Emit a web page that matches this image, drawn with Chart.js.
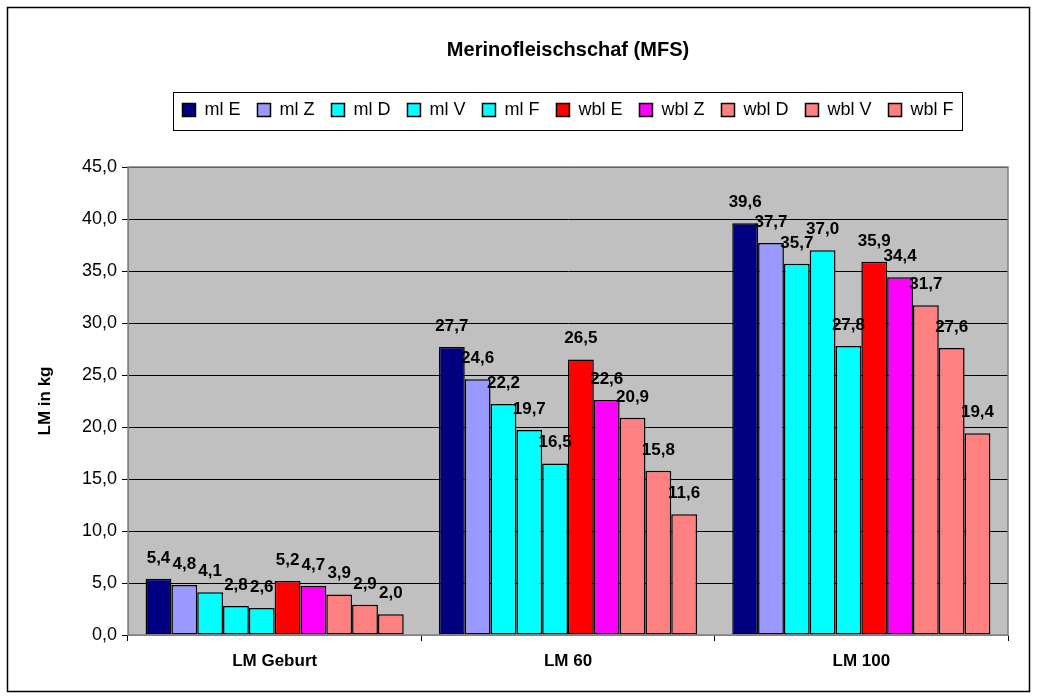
<!DOCTYPE html>
<html lang="de">
<head>
    <meta charset="UTF-8">
    <title>Merinofleischschaf (MFS)</title>
    <script src="https://cdn.jsdelivr.net/npm/chart.js"></script>
    <style>
        body { margin: 0; background: #fff; }
        canvas { display: block; }
    </style>
</head>
<body>
    <canvas id="myChart" width="1037" height="700"></canvas>

    <script>
        // Kategorien und Werte
        const categories = ['LM Geburt', 'LM 60', 'LM 100'];
        const seriesNames = ['ml E', 'ml Z', 'ml D', 'ml V', 'ml F', 'wbl E', 'wbl Z', 'wbl D', 'wbl V', 'wbl F'];
        const mlE = [5.4, 27.7, 39.6];
        const mlZ = [4.8, 24.6, 37.7];
        const mlD = [4.1, 22.2, 35.7];
        const mlV = [2.8, 19.7, 37.0];
        const mlF = [2.6, 16.5, 27.8];
        const wblE = [5.2, 26.5, 35.9];
        const wblZ = [4.7, 22.6, 34.4];
        const wblD = [3.9, 20.9, 31.7];
        const wblV = [2.9, 15.8, 27.6];
        const wblF = [2.0, 11.6, 19.4];
        const yTicks = [0, 5, 10, 15, 20, 25, 30, 35, 40, 45];

        const seriesValues = [mlE, mlZ, mlD, mlV, mlF, wblE, wblZ, wblD, wblV, wblF];
        const colors = ['#000080', '#9999FF', '#00FFFF', '#00FFFF', '#00FFFF',
                        '#FF0000', '#FF00FF', '#FF8080', '#FF8080', '#FF8080'];

        const FONT = '"Liberation Sans", Arial, sans-serif';
        const fmt = v => v.toFixed(1).replace('.', ',');

        // Legende: feste Höhe, damit die Zeichenfläche bei y=167 beginnt
        const legendHeight = {
            id: 'legendHeight',
            beforeInit(chart) {
                const lg = chart.legend;
                const fit = lg.fit;
                lg.fit = function () {
                    fit.call(this);
                    this.height = 83;
                };
            }
        };

        // grauer Hintergrund der Zeichenfläche + Rahmen
        const plotArea = {
            id: 'plotArea',
            beforeDraw(chart) {
                const { ctx, chartArea: a } = chart;
                ctx.save();
                ctx.fillStyle = '#C0C0C0';
                ctx.fillRect(a.left, a.top, a.right - a.left, a.bottom - a.top);
                ctx.restore();
            },
            afterDraw(chart) {
                const { ctx, chartArea: a } = chart;
                ctx.save();
                ctx.strokeStyle = '#808080';
                ctx.lineWidth = 1.5;
                ctx.strokeRect(a.left, a.top, a.right - a.left, a.bottom - a.top);
                // äußerer Rahmen
                ctx.strokeStyle = '#000';
                ctx.lineWidth = 1.5;
                ctx.strokeRect(7.5, 7.5, 1022, 684);
                // Rahmen um die Legende
                const boxes = chart.legend.legendHitBoxes;
                if (boxes && boxes.length) {
                    const l = Math.min(...boxes.map(b => b.left)) - 9;
                    const r = Math.max(...boxes.map(b => b.left + b.width)) + 9;
                    const t = Math.min(...boxes.map(b => b.top)) - 9;
                    const bt = Math.max(...boxes.map(b => b.top + b.height)) + 11;
                    ctx.strokeStyle = '#000';
                    ctx.lineWidth = 1;
                    ctx.strokeRect(Math.round(l) + 0.5, Math.round(t) + 0.5, Math.round(r - l), Math.round(bt - t));
                }
                ctx.restore();
            }
        };

        // Datenbeschriftungen über den Balken
        const barLabels = {
            id: 'barLabels',
            afterDatasetsDraw(chart) {
                const ctx = chart.ctx;
                ctx.save();
                ctx.font = 'bold 17px ' + FONT;
                ctx.fillStyle = '#000';
                ctx.textAlign = 'center';
                ctx.textBaseline = 'alphabetic';
                chart.data.datasets.forEach((ds, i) => {
                    chart.getDatasetMeta(i).data.forEach((bar, j) => {
                        ctx.fillText(fmt(ds.data[j]), bar.x, bar.y - 16);
                    });
                });
                ctx.restore();
            }
        };

        const ctx = document.getElementById('myChart').getContext('2d');
        new Chart(ctx, {
            type: 'bar',
            data: {
                labels: categories,
                datasets: seriesNames.map((name, i) => ({
                    label: name,
                    data: seriesValues[i],
                    backgroundColor: colors[i],
                    borderColor: '#000',
                    borderWidth: 1.5,
                    borderSkipped: false,
                    categoryPercentage: 0.88,
                    barPercentage: 1.0
                }))
            },
            options: {
                responsive: false,
                animation: false,
                layout: { padding: { left: 20, right: 29, top: 10, bottom: 0 } },
                plugins: {
                    title: {
                        display: true,
                        fullSize: false,
                        text: 'Merinofleischschaf (MFS)',
                        color: '#000',
                        font: { family: FONT, size: 20, weight: 'bold' },
                        padding: { top: 28, bottom: 22 }
                    },
                    legend: {
                        position: 'top',
                        fullSize: false,
                        labels: {
                            color: '#000',
                            boxWidth: 13,
                            boxHeight: 13,
                            padding: 17,
                            font: { family: FONT, size: 18 }
                        }
                    },
                    tooltip: { enabled: false }
                },
                scales: {
                    x: {
                        afterFit(scale) { scale.height = 65; },
                        grid: {
                            offset: true,
                            drawOnChartArea: false,
                            color: '#000',
                            tickLength: 6
                        },
                        border: { color: '#808080' },
                        ticks: {
                            color: '#000',
                            padding: 10,
                            font: { family: FONT, size: 17, weight: 'bold' }
                        }
                    },
                    y: {
                        min: 0,
                        max: 45,
                        afterFit(scale) { scale.width = 108; },
                        afterBuildTicks(scale) {
                            scale.ticks = yTicks.map(v => ({ value: v }));
                        },
                        grid: { color: '#000', tickLength: 6 },
                        border: { color: '#808080' },
                        ticks: {
                            color: '#000',
                            padding: 5,
                            font: { family: FONT, size: 18 },
                            callback: v => fmt(v)
                        },
                        title: {
                            display: true,
                            text: 'LM in kg',
                            color: '#000',
                            padding: { top: 15, bottom: 0 },
                            font: { family: FONT, size: 17, weight: 'bold' }
                        }
                    }
                }
            },
            plugins: [legendHeight, plotArea, barLabels]
        });
    </script>
</body>
</html>
